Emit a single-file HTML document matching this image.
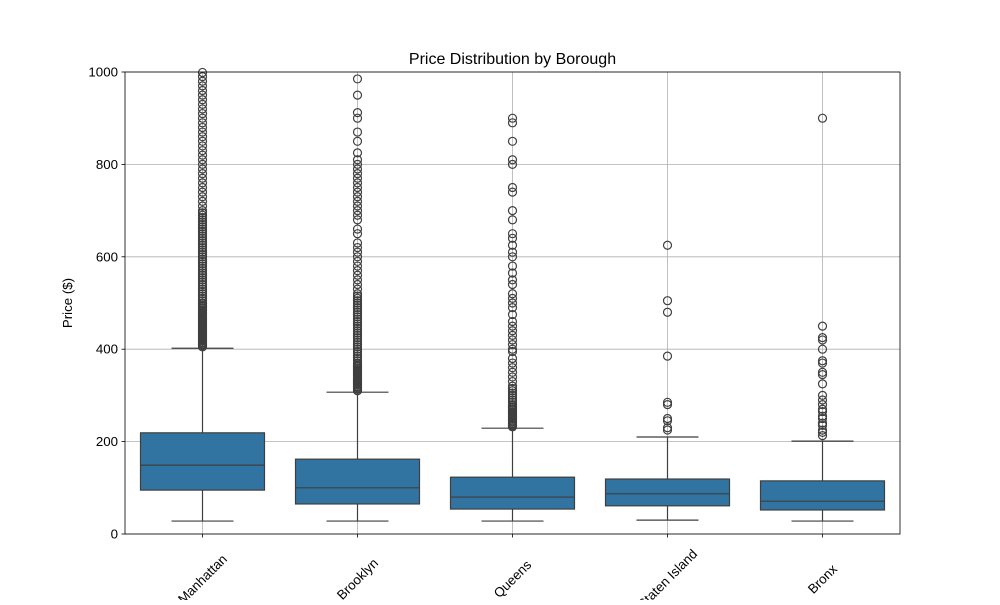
<!DOCTYPE html>
<html><head><meta charset="utf-8"><style>
body{margin:0;background:#fff}
text{font-family:"Liberation Sans","DejaVu Sans",sans-serif;fill:#000}
</style></head><body>
<svg id="chart" width="1000" height="600" xmlns="http://www.w3.org/2000/svg">
<rect width="1000" height="600" fill="#fff"/>
<text x="512.5" y="64" font-size="16" text-anchor="middle">Price Distribution by Borough</text>
<g id="grid"></g><g id="boxes"></g><g id="axes"></g>
<text transform="translate(72,303) rotate(-90)" font-size="13.3" text-anchor="middle">Price ($)</text>
</svg>
<script>
const categories=["Manhattan","Brooklyn","Queens","Staten Island","Bronx"];
const q1=[95,65,54,61,52];
const medians=[149,100,80,87,71];
const q3=[219,162,123,119,115];
const whiskerLow=[28,28,28,30,28];
const whiskerHigh=[402,307,229,210,201];
const outliersManhattan=[405,408,410,413,415,418,420,423,425,428,430,433,435,438,440,443,445,448,450,453,455,458,460,463,465,468,470,473,475,478,480,483,485,488,490,493,495,498,500,505,510,515,520,525,530,535,540,545,550,555,560,565,570,575,580,585,590,595,600,605,610,615,620,625,630,635,640,645,650,655,660,665,670,675,680,685,690,695,700,710,720,730,740,750,760,770,780,790,800,810,820,830,840,850,860,870,880,890,900,910,920,930,940,950,960,970,980,990,999];
const outliersBrooklyn=[310,313,315,318,320,323,325,328,330,333,335,338,340,343,345,348,350,353,355,358,360,363,365,368,370,375,380,385,390,395,400,405,410,415,420,425,430,435,440,445,450,455,460,465,470,475,480,485,490,495,500,505,510,515,520,530,540,550,560,570,580,590,600,610,620,630,650,660,680,690,700,710,720,730,740,750,760,770,780,790,800,810,825,850,870,900,912,950,985];
const outliersQueens=[232,234,236,238,240,243,245,248,250,253,255,258,260,263,265,268,270,273,275,278,280,285,290,295,300,305,310,315,320,330,340,350,360,370,380,395,400,410,420,430,440,450,460,475,490,500,510,520,540,550,565,580,600,610,625,640,650,680,700,740,750,800,810,850,890,900];
const outliersStaten=[225,230,245,250,280,285,385,480,505,625];
const outliersBronx=[213,220,225,235,240,250,255,265,270,280,290,300,325,345,350,370,375,400,420,425,450,900];
const outliers=[outliersManhattan,outliersBrooklyn,outliersQueens,outliersStaten,outliersBronx];
const yTicks=[0,200,400,600,800,1000];

const L=125,R=900,T=72,B=534,NS="http://www.w3.org/2000/svg";
const y=v=>B-(v/1000)*(B-T);
const bw=(R-L)/categories.length;
const x=i=>L+bw*(i+0.5);
function mk(tag,a,p){const e=document.createElementNS(NS,tag);for(const k in a)e.setAttribute(k,a[k]);p.appendChild(e);return e;}
const grid=document.getElementById('grid'),boxes=document.getElementById('boxes'),axes=document.getElementById('axes');
yTicks.forEach(t=>{
 const g=mk('line',{x1:L,x2:R,y1:y(t),y2:y(t),stroke:'#b0b0b0','stroke-width':0.8},grid);
 
 
 mk('line',{x1:L-3.5,x2:L,y1:y(t),y2:y(t),stroke:'#000','stroke-width':0.8},axes);
 const tx=mk('text',{x:L-7,y:y(t)+4.5,'font-size':13.3,'text-anchor':'end'},axes);
 tx.textContent=t;
 
 
});
categories.forEach((c,i)=>{
 const cx=x(i),hw=bw*0.4,col='#3f3f3f';
 const gl=mk('line',{x1:cx,x2:cx,y1:T,y2:B,stroke:'#b0b0b0','stroke-width':0.8},grid);
 
 
 const g=mk('g',{},boxes);
 
 
 mk('line',{x1:cx,x2:cx,y1:y(q1[i]),y2:y(whiskerLow[i]),stroke:col,'stroke-width':1.2},g);
 mk('line',{x1:cx,x2:cx,y1:y(q3[i]),y2:y(whiskerHigh[i]),stroke:col,'stroke-width':1.2},g);
 mk('line',{x1:cx-hw/2,x2:cx+hw/2,y1:y(whiskerLow[i]),y2:y(whiskerLow[i]),stroke:col,'stroke-width':1.2},g);
 mk('line',{x1:cx-hw/2,x2:cx+hw/2,y1:y(whiskerHigh[i]),y2:y(whiskerHigh[i]),stroke:col,'stroke-width':1.2},g);
 mk('rect',{x:cx-hw,y:y(q3[i]),width:2*hw,height:y(q1[i])-y(q3[i]),fill:'#3274a1',stroke:col,'stroke-width':1.2},g);
 mk('line',{x1:cx-hw,x2:cx+hw,y1:y(medians[i]),y2:y(medians[i]),stroke:col,'stroke-width':1.2},g);
 outliers[i].forEach(v=>{
  const o=mk('circle',{cx:cx,cy:y(v),r:4,fill:'none',stroke:col,'stroke-width':1.2},g);
  
  
 });
 mk('line',{x1:cx,x2:cx,y1:B,y2:B+3.5,stroke:'#000','stroke-width':0.8},axes);
 const tx=mk('text',{transform:`translate(${cx},${B+45}) rotate(-45)`,'font-size':13.3,'text-anchor':'middle','dominant-baseline':'central'},axes);
 tx.textContent=c;
 
 
});
const fr=mk('rect',{x:L,y:T,width:R-L,height:B-T,fill:'none',stroke:'#000','stroke-width':0.8},axes);


</script>
</body></html>
